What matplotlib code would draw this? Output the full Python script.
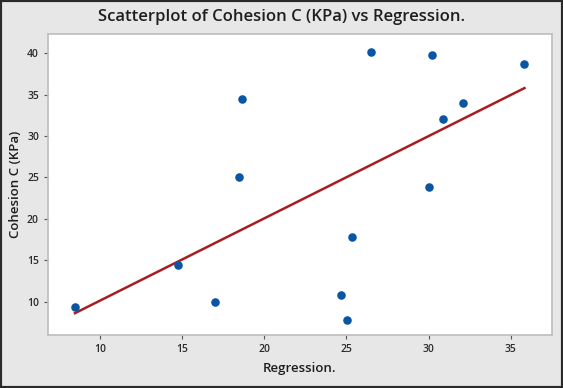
import matplotlib.pyplot as plt
import numpy as np
from matplotlib.patches import Rectangle

plt.rcParams['font.family'] = ['Open Sans', 'DejaVu Sans']

regression = [8.48, 14.75, 17.02, 18.46, 18.64, 24.67, 25.05, 25.34,
              26.48, 30.19, 30.0, 30.88, 32.08, 35.83]
cohesion = [9.36, 14.43, 9.96, 25.03, 34.48, 10.8, 7.79, 17.8,
            40.2, 39.84, 23.9, 32.03, 34.05, 38.75]

x = np.array(regression)
y = np.array(cohesion)
slope, intercept = np.polyfit(x, y, 1)
xs = np.array([x.min(), x.max()])

fig = plt.figure(figsize=(5.63, 3.88), dpi=100, facecolor='#e7e7e7')
ax = fig.add_axes([0.0853, 0.1366, 0.8947, 0.7758])
ax.set_facecolor('white')

ax.plot(xs, slope * xs + intercept, color='#a61e22', lw=1.8, zorder=2)
ax.scatter(x, y, s=38, color='#0a56a4', zorder=3, linewidths=0)

ax.set_xlim(6.84, 37.49)
ax.set_ylim(5.98, 42.33)
ax.set_xticks([10, 15, 20, 25, 30, 35])
ax.set_yticks([10, 15, 20, 25, 30, 35, 40])

for s in ax.spines.values():
    s.set_color('#bdbdbd')
    s.set_linewidth(1.2)
ax.tick_params(colors='#555555', labelcolor='#2a2a2a', labelsize=7.5,
               length=3, width=0.8)
for lab in ax.get_xticklabels() + ax.get_yticklabels():
    lab.set_fontweight('semibold')

# title is centred on the whole figure, not on the axes
fig.suptitle('Scatterplot of Cohesion C (KPa) vs Regression.', fontsize=12,
             color='#1e1e1e', fontweight='semibold', y=0.977)
ax.set_xlabel('Regression.', fontsize=9.5, color='#1e1e1e', labelpad=5,
              fontweight='semibold')
ax.set_ylabel('Cohesion C (KPa)', fontsize=9.5, color='#1e1e1e',
              fontweight='semibold')
ax.yaxis.set_label_coords(-0.052, 0.5)

fig.patches.append(Rectangle((0, 0), 1, 1, transform=fig.transFigure,
                             fill=False, edgecolor='#2a2a2a', lw=3))

fig.savefig('out.png', dpi=100, facecolor=fig.get_facecolor())
